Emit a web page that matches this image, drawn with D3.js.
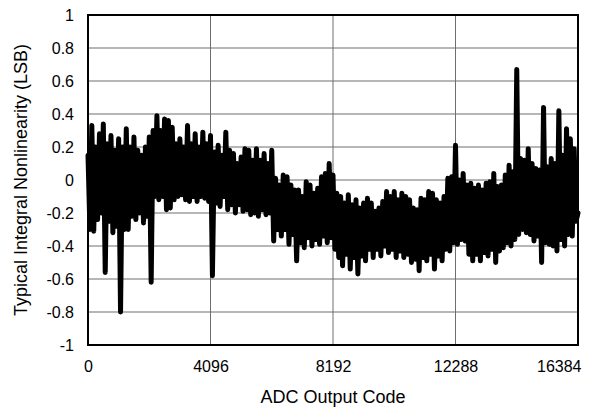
<!DOCTYPE html>
<html>
<head>
<meta charset="utf-8">
<script src="https://cdn.jsdelivr.net/npm/d3@7"></script>
<style>
  html, body { margin: 0; padding: 0; background: #fff; }
  svg { display: block; }
  text { font-family: "Liberation Sans", Arial, sans-serif; fill: #000; }
</style>
</head>
<body>
<svg id="chart" width="612" height="409"></svg>
<script>
// ---- data, one value every 64 codes ----
const codeStep = 64;
const inlValues = [
   0.15,-0.30,  0.33,-0.31,  0.20,-0.24,  0.28,-0.20,  0.34,-0.56,
   0.22,-0.25,  0.27,-0.32,  0.18,-0.28,  0.25,-0.80,  0.20,-0.30,
   0.31,-0.30,  0.20,-0.22,  0.26,-0.24,  0.18,-0.20,  0.15,-0.26,
   0.20,-0.22,  0.26,-0.62,  0.30,-0.10,  0.39,-0.12,  0.30,-0.10,
   0.37,-0.18,  0.36,-0.17,  0.32,-0.12,  0.22,-0.10,  0.25,-0.09,
   0.20,-0.12,  0.33,-0.13,  0.22,-0.10,  0.28,-0.13,  0.20,-0.10,
   0.29,-0.11,  0.22,-0.13,  0.27,-0.58,  0.17,-0.14,  0.21,-0.16,
   0.15,-0.10,  0.29,-0.18,  0.18,-0.15,  0.16,-0.20,  0.10,-0.15,
   0.14,-0.19,  0.19,-0.18,  0.18,-0.21,  0.12,-0.20,  0.19,-0.22,
   0.12,-0.18,  0.16,-0.21,  0.10,-0.20,  0.18,-0.37,  0.01,-0.30,
  -0.03,-0.34,  0.03,-0.30,  0.02,-0.39, -0.03,-0.33, -0.06,-0.49,
  -0.06,-0.38, -0.10,-0.41, -0.01,-0.35, -0.03,-0.40, -0.08,-0.36,
  -0.05,-0.39,  0.02,-0.34,  0.04,-0.38,  0.10,-0.35,  0.03,-0.42,
  -0.08,-0.47, -0.10,-0.52, -0.14,-0.45, -0.09,-0.54, -0.15,-0.47,
  -0.12,-0.57, -0.17,-0.46, -0.14,-0.49, -0.11,-0.42, -0.14,-0.47,
  -0.19,-0.42, -0.17,-0.46, -0.13,-0.40, -0.07,-0.44, -0.10,-0.42,
  -0.07,-0.47, -0.12,-0.43, -0.08,-0.47, -0.10,-0.45, -0.12,-0.50,
  -0.17,-0.48, -0.18,-0.55, -0.11,-0.47, -0.12,-0.49, -0.07,-0.45,
  -0.08,-0.54, -0.12,-0.46, -0.14,-0.49, -0.10,-0.42,  0.01,-0.43,
   0.02,-0.38,  0.21,-0.39,  0.00,-0.36,  0.04,-0.37, -0.03,-0.45,
  -0.02,-0.49, -0.05,-0.45, -0.03,-0.49, -0.06,-0.44, -0.02,-0.46,
  -0.01,-0.42,  0.04,-0.50, -0.04,-0.43, -0.03,-0.41,  0.03,-0.38,
   0.09,-0.40,  0.05,-0.36,  0.67,-0.33,  0.13,-0.30,  0.12,-0.32,
   0.19,-0.33,  0.10,-0.37,  0.07,-0.34,  0.06,-0.50,  0.44,-0.38,
   0.08,-0.39,  0.13,-0.40,  0.10,-0.43,  0.42,-0.36,  0.15,-0.40,
   0.31,-0.33,  0.25,-0.34,  0.19,-0.25, -0.20
];
const outputCodes = inlValues.map((_, i) => i * codeStep);
const xTicks = [0, 4096, 8192, 12288, 16384];
const yTicks = [-1, -0.8, -0.6, -0.4, -0.2, 0, 0.2, 0.4, 0.6, 0.8, 1];
const xTitle = "ADC Output Code";
const yTitle = "Typical Integral Nonlinearity (LSB)";

// ---- layout ----
const svg = d3.select("#chart");
const L = 88, R = 578, T = 15, B = 345;

const x = d3.scaleLinear().domain([0, 16384]).range([L, R]);
const y = d3.scaleLinear().domain([-1, 1]).range([B, T]);

// gridlines
svg.append("g").selectAll("line")
  .data(yTicks.filter(v => v > -1 && v < 1))
  .join("line")
  .attr("x1", L).attr("x2", R)
  .attr("y1", d => y(d)).attr("y2", d => y(d))
  .attr("stroke", "#6e6e6e").attr("stroke-width", 1);

svg.append("g").selectAll("line")
  .data(xTicks.filter(v => v > 0 && v < 16384))
  .join("line")
  .attr("x1", d => x(d)).attr("x2", d => x(d))
  .attr("y1", T).attr("y2", B)
  .attr("stroke", "#6e6e6e").attr("stroke-width", 1);

// data line
const line = d3.line()
  .x((d, i) => x(outputCodes[i]))
  .y(d => y(d));

svg.append("path")
  .datum(inlValues)
  .attr("d", line)
  .attr("fill", "none")
  .attr("stroke", "#000")
  .attr("stroke-width", 5)
  .attr("stroke-linejoin", "round")
  .attr("stroke-linecap", "round");

// plot frame
svg.append("rect")
  .attr("x", L).attr("y", T)
  .attr("width", R - L).attr("height", B - T)
  .attr("fill", "none").attr("stroke", "#000").attr("stroke-width", 2);

// y axis labels
const yAxis = d3.axisLeft(y).tickValues(yTicks).tickSize(0).tickPadding(14)
  .tickFormat(d => String(+d.toFixed(1)));
const gy = svg.append("g").attr("transform", `translate(${L},0)`).call(yAxis);
gy.select(".domain").remove();
gy.selectAll("text").style("font-size", "16px").attr("fill", "#000")
  .style("font-family", "'Liberation Sans', Arial, sans-serif");

// x axis labels
const xAxis = d3.axisBottom(x).tickValues(xTicks).tickSize(0).tickPadding(16)
  .tickFormat(d3.format("d"));
const gx = svg.append("g").attr("transform", `translate(0,${B})`).call(xAxis);
gx.select(".domain").remove();
gx.selectAll("text").style("font-size", "16px").attr("fill", "#000")
  .style("font-family", "'Liberation Sans', Arial, sans-serif");
gx.selectAll(".tick").filter(d => d === 16384).select("text")
  .attr("text-anchor", "end").attr("dx", "3");

// titles
svg.append("text")
  .attr("x", (L + R) / 2).attr("y", 403)
  .attr("text-anchor", "middle")
  .style("font-size", "18px")
  .text(xTitle);

svg.append("text")
  .attr("transform", `translate(27,${(T + B) / 2}) rotate(-90)`)
  .attr("text-anchor", "middle")
  .style("font-size", "18px")
  .text(yTitle);
</script>
</body>
</html>
